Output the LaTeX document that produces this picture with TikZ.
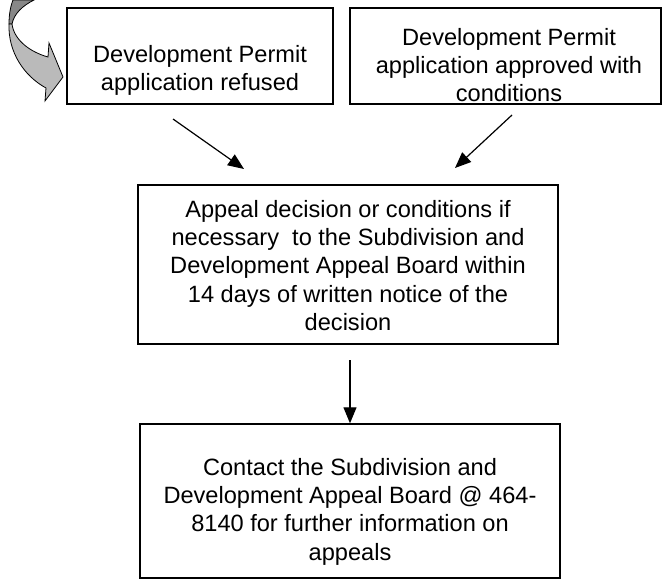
\documentclass[tikz,border=0pt]{standalone}
\usepackage{fontspec}
\setmainfont{Liberation Sans}
\usetikzlibrary{arrows.meta}
\definecolor{bandlight}{RGB}{186,186,186}
\definecolor{banddark}{RGB}{136,136,136}
\tikzset{
  boxshape/.style={draw=black,line width=1.4pt,rectangle,inner sep=0pt},
  boxtext/.style={align=center,inner sep=0pt,anchor=north,font=\fontsize{23.6}{28.3}\selectfont},
  flowarrow/.style={line width=1.2pt,-{Triangle[length=16pt,width=13pt]}}
}
\begin{document}
\begin{tikzpicture}[x=1pt,y=-1pt]
\useasboundingbox (0,0) rectangle (662,583);
% boxes
\node[boxshape,minimum width=266pt,minimum height=96pt] (b1) at (200,56) {};
\node[boxshape,minimum width=311pt,minimum height=96pt] (b2) at (505.5,56) {};
\node[boxshape,minimum width=420pt,minimum height=159pt] (mid) at (348,264.5) {};
\node[boxshape,minimum width=420pt,minimum height=154pt] (bot) at (350,501) {};
% texts
\node[boxtext] (t1) at (200,45) {Development Permit\\application refused};
\node[boxtext] (t2) at (509,28) {Development Permit\\application approved with\\conditions};
\node[boxtext] (tm) at (348,200) {Appeal decision or conditions if\\necessary\ \ to the Subdivision and\\Development Appeal Board within\\14 days of written notice of the\\decision};
\node[boxtext] (tb) at (350,458) {Contact the Subdivision and\\Development Appeal Board @ 464-\\8140 for further information on\\appeals};
% connector ends
\coordinate (a1s) at (173,119);
\coordinate (a1e) at (244,169);
\coordinate (a2s) at (512,115);
\coordinate (a2e) at (455,168);
\coordinate (a3s) at (350,360);
\draw[flowarrow] (a1s) -- (a1e);
\draw[flowarrow] (a2s) -- (a2e);
\draw[flowarrow] (a3s) -- (bot.north -| a3s);
% curved block arrow
\draw[fill=banddark,line width=0.8pt] (13,0) -- (34,0) .. controls (22,6) and (14,14) .. (12,24) -- (9,24) .. controls (9,13) and (11,5) .. (13,0) -- cycle;
\draw[fill=bandlight,line width=0.8pt] (9,24) .. controls (8,52) and (24,76) .. (46,88) -- (45,101) -- (63,77) -- (49,43) -- (48,57) .. controls (30,52) and (14,40) .. (12,24) -- cycle;
\end{tikzpicture}
\end{document}
